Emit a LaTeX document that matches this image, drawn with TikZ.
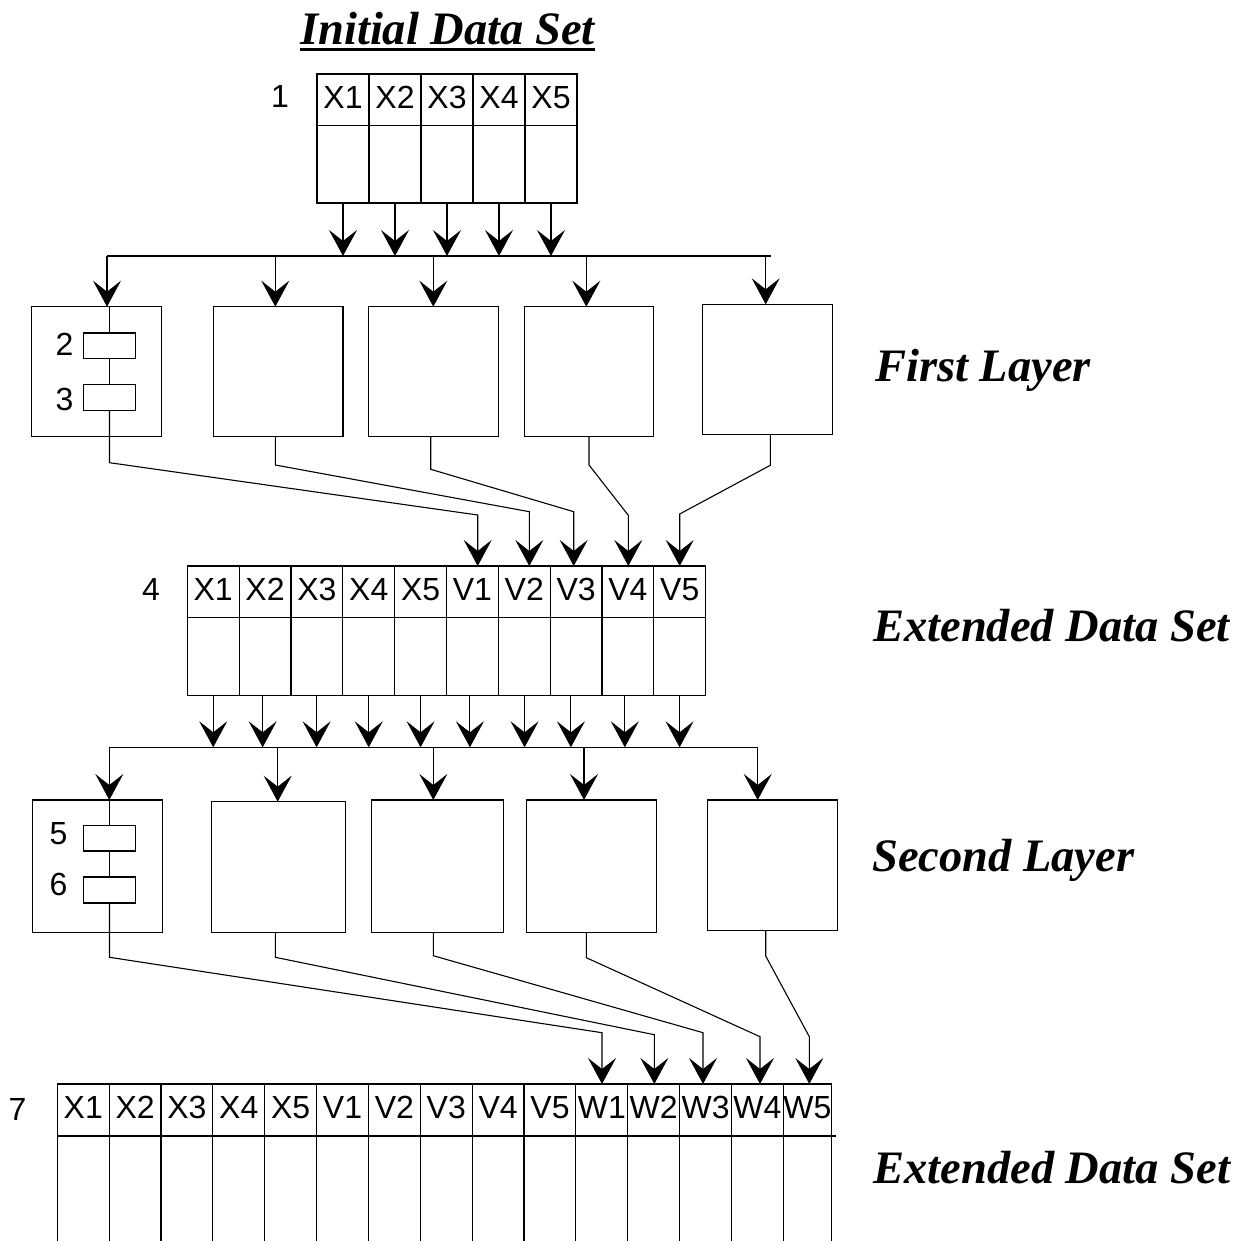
\documentclass[tikz,border=0pt]{standalone}
\usepackage{fontspec}
\setmainfont{Liberation Sans}
\newfontfamily\titlefont{Liberation Serif}
\usetikzlibrary{arrows.meta}
\tikzset{
  ln/.style={line width=1.1pt},
  arr/.style={ln,-{Stealth[length=26pt,width=28pt,inset=11pt]}},
  hcell/.style={draw,ln,anchor=north west,inner sep=0pt,outer sep=0pt,text height=21pt,text depth=4pt,font=\fontsize{32}{34}\selectfont},
  bcell/.style={draw,ln,anchor=north west,inner sep=0pt,outer sep=0pt},
  box/.style={draw,ln,anchor=north west,inner sep=0pt,outer sep=0pt},
  inbox/.style={draw,ln,anchor=north west,inner sep=0pt,outer sep=0pt,minimum width=52.4pt},
  num/.style={anchor=base,inner sep=0pt,font=\fontsize{32}{34}\selectfont},
  ttl/.style={anchor=base west,inner sep=0pt,font={\titlefont\fontsize{46.5}{50}\selectfont\bfseries\itshape}}
}
\begin{document}
\begin{tikzpicture}[x=1pt,y=-1pt]
\useasboundingbox (0,0) rectangle (1242,1241);

% ---------- title ----------
\node[ttl] (title) at (300,45) {Initial Data Set};
\draw[line width=3pt] ([yshift=-5pt]title.base west) -- ([yshift=-5pt]title.base east);

% ---------- side labels ----------
\node[ttl] (lab1) at (875,381.7) {First Layer};
\node[ttl] (lab2) at (873,641) {Extended Data Set};
\node[ttl] (lab3) at (872,871.7) {Second Layer};
\node[ttl] (lab4) at (873.3,1183.3) {Extended Data Set};

% ---------- initial data set ----------
\foreach \i in {1,...,5}{
  \node[hcell,minimum width=52pt,minimum height=51.5pt] (ta\i) at ({317+52*(\i-1)},74) {X\i};
  \node[bcell,minimum width=52pt,minimum height=77.5pt] (tb\i) at (ta\i.south west) {};
}
\node[num] (n1) at (280,108) {1};

\coordinate (bus1L) at (107,256);
\coordinate (bus1R) at (771,256);
\foreach \i in {1,...,5} \draw[arr] (tb\i.south) -- (tb\i.south |- bus1L);
\draw[ln] (bus1L) -- (bus1R);

% ---------- first layer ----------
\node[box,minimum width=130.4pt,minimum height=129.6pt] (f1) at (31.3,306.7) {};
\node[box,minimum width=129.7pt,minimum height=129.6pt] (f2) at (213.3,306.7) {};
\node[box,minimum width=129.6pt,minimum height=129.6pt] (f3) at (368.7,306.7) {};
\node[box,minimum width=129.4pt,minimum height=129.6pt] (f4) at (524.3,306.7) {};
\node[box,minimum width=130pt,minimum height=130pt] (f5) at (702.7,304.3) {};

\coordinate (j2) at (275.3,256);
\coordinate (j3) at (433.3,256);
\coordinate (j4) at (586.3,256);
\coordinate (j5) at (765.7,256);
\draw[arr] (bus1L) -- (bus1L |- f1.north);
\draw[arr] (j2) -- (j2 |- f2.north);
\draw[arr] (j3) -- (j3 |- f3.north);
\draw[arr] (j4) -- (j4 |- f4.north);
\draw[arr] (j5) -- (j5 |- f5.north);

\node[inbox,minimum height=25.3pt] (r2) at (83.3,333) {};
\node[inbox,minimum height=26pt] (r3) at (83.3,384.3) {};
\node[num] (n2) at (64.5,355) {2};
\node[num] (n3) at (64.5,410) {3};
\draw[ln] (r2.north) -- (r2.north |- f1.north);
\draw[ln] (r2.south) -- (r3.north);

% ---------- extended data set ----------
\foreach \t [count=\i] in {X1,X2,X3,X4,X5,V1,V2,V3,V4,V5}{
  \node[hcell,minimum width=51.84pt,minimum height=51.7pt] (ea\i) at ({187.3+51.84*(\i-1)},566) {\t};
  \node[bcell,minimum width=51.84pt,minimum height=77.6pt] (eb\i) at (ea\i.south west) {};
}
\node[num] (n4) at (151,600) {4};

% connectors first layer -> extended set
\coordinate (m2) at (275.3,465);
\coordinate (m3) at (430.7,469.3);
\coordinate (m4) at (589,465);
\coordinate (m5) at (770.3,465.3);
\coordinate (k1) at (477.7,515);
\coordinate (k2) at (529.3,511.7);
\coordinate (k3) at (573.7,511.7);
\coordinate (k4) at (628.3,515.3);
\coordinate (k5) at (679.7,514);
\draw[arr] (r3.south) -- ++(0,52.4) -- (k1) -- (k1 |- ea6.north);
\draw[arr] (f2.south -| m2) -- (m2) -- (k2) -- (k2 |- ea7.north);
\draw[arr] (f3.south -| m3) -- (m3) -- (k3) -- (k3 |- ea8.north);
\draw[arr] (f4.south -| m4) -- (m4) -- (k4) -- (k4 |- ea9.north);
\draw[arr] (f5.south -| m5) -- (m5) -- (k5) -- (k5 |- ea10.north);

% extended set -> bus 2
\coordinate (bus2L) at (109.3,747.3);
\coordinate (bus2R) at (757.7,747.3);
\foreach \i/\d in {1/0,2/-2.4,3/-0.3,4/0,5/0,6/-2.5,7/0.3,8/-5.2,9/-3.1,10/-0.2}
  \draw[arr] ([xshift=\d pt]eb\i.south) -- ([xshift=\d pt]eb\i.south |- bus2L);
\draw[ln] (bus2L) -- (bus2R);

% ---------- second layer ----------
\node[box,minimum width=130pt,minimum height=132.3pt] (s1) at (32.3,800) {};
\node[box,minimum width=134pt,minimum height=130.6pt] (s2) at (211.3,801.7) {};
\node[box,minimum width=132.4pt,minimum height=132.3pt] (s3) at (371.3,800) {};
\node[box,minimum width=130pt,minimum height=132.3pt] (s4) at (526.7,800) {};
\node[box,minimum width=130.4pt,minimum height=130.7pt] (s5) at (707.3,800) {};

\coordinate (g2) at (277.7,747.3);
\coordinate (g3) at (433.3,747.3);
\coordinate (g4) at (584,747.3);
\draw[arr] (bus2L) -- (bus2L |- s1.north);
\draw[arr] (g2) -- (g2 |- s2.north);
\draw[arr] (g3) -- (g3 |- s3.north);
\draw[arr] (g4) -- (g4 |- s4.north);
\draw[arr] (bus2R) -- (bus2R |- s5.north);

\node[inbox,minimum height=25.7pt] (r5) at (83.3,825.3) {};
\node[inbox,minimum height=26pt] (r6) at (83.3,877) {};
\node[num] (n5) at (58.5,844) {5};
\node[num] (n6) at (58.5,895) {6};
\draw[ln] (r5.north) -- (r5.north |- s1.north);
\draw[ln] (r5.south) -- (r6.north);

% ---------- final extended data set ----------
\foreach \t [count=\i] in {X1,X2,X3,X4,X5,V1,V2,V3,V4,V5,W1,W2,W3,W4}{
  \node[hcell,minimum width=51.86pt,minimum height=52pt] (ba\i) at ({57.3+51.86*(\i-1)},1084) {\t};
}
\node[hcell,minimum width=46.7pt,minimum height=52pt] (ba15) at (783.3,1084) {W5};
\node[num] (n7) at (17.5,1120) {7};
\coordinate (bottom) at (0,1241);
\foreach \i in {1,...,15} \draw[ln] (ba\i.south west) -- (ba\i.south west |- bottom);
\draw[ln] (ba15.south east) -- (ba15.south east |- bottom);
\draw[ln] (ba15.south east) -- ++(5,0);

% connectors second layer -> final set
\coordinate (u2) at (275.3,957.3);
\coordinate (u3) at (433.3,955.7);
\coordinate (u4) at (586.3,957.7);
\coordinate (u5) at (765.7,956);
\coordinate (q1) at (602,1032.7);
\coordinate (q2) at (654.3,1034.7);
\coordinate (q3) at (703,1032.7);
\coordinate (q4) at (760,1036.7);
\coordinate (q5) at (809.3,1036.7);
\draw[arr] (r6.south) -- ++(0,54.3) -- (q1) -- (q1 |- ba11.north);
\draw[arr] (s2.south -| u2) -- (u2) -- (q2) -- (q2 |- ba12.north);
\draw[arr] (s3.south -| u3) -- (u3) -- (q3) -- (q3 |- ba13.north);
\draw[arr] (s4.south -| u4) -- (u4) -- (q4) -- (q4 |- ba14.north);
\draw[arr] (s5.south -| u5) -- (u5) -- (q5) -- (q5 |- ba15.north);
\end{tikzpicture}
\end{document}
